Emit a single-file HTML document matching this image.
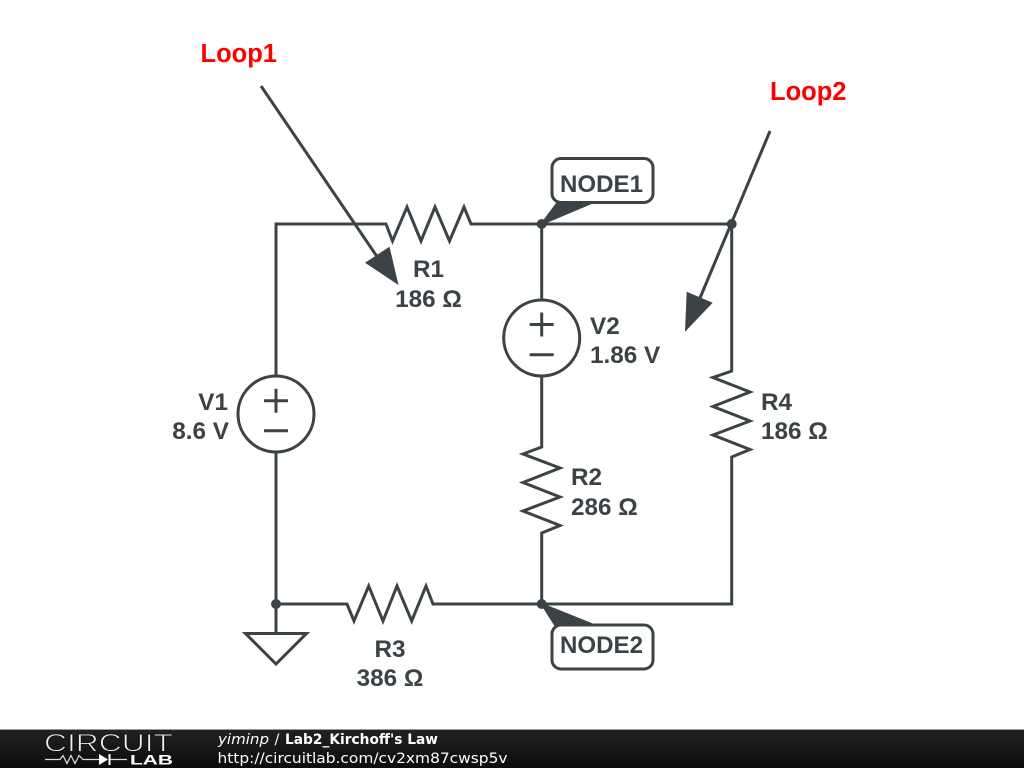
<!DOCTYPE html>
<html><head><meta charset="utf-8"><style>
html,body{margin:0;padding:0;background:#fff;width:1024px;height:768px;overflow:hidden}
svg{display:block}
.w{fill:none;stroke:#3b4347;stroke-width:3;stroke-linejoin:miter}
.f{fill:#3b4347;stroke:none}
.p{fill:#3b4347;stroke:#3b4347;stroke-width:2;stroke-linejoin:round}
.t{font-family:"Liberation Sans",Arial,sans-serif;font-weight:bold;font-size:24.3px;fill:#3b4347}
.r{font-family:"Liberation Sans",Arial,sans-serif;font-weight:bold;font-size:25.5px;fill:#f00}
.d{font-family:"DejaVu Sans",sans-serif;font-size:14.5px;fill:#fff}
</style></head><body>
<svg width="1024" height="768" viewBox="0 0 1024 768" xmlns="http://www.w3.org/2000/svg">
<defs><linearGradient id="g" x1="0" y1="0" x2="0" y2="1"><stop offset="0" stop-color="#222"/><stop offset="1" stop-color="#0c0c0c"/></linearGradient></defs>
<rect width="1024" height="768" fill="#fff"/>
<!-- wires -->
<path class="w" d="M276 376V224H386L392.500 241L407 207L421 241L435 207L449.500 241L464 207L471 224H731.700V371L713 377.500L750 392L713 406.500L750 421L713 435L750 449.500L731.700 457V604H541.700"/>
<path class="w" d="M541.700 224V300M541.700 376V447L523 454L560 468L523 482.500L560 497L523 511L560 525.500L541.700 533V604"/>
<path class="w" d="M541.700 604H433L426 586L411.700 621L397 586L383 621L368.700 586L354 621L347 604H276V452M276 604V633"/>
<!-- sources -->
<circle class="w" cx="541.700" cy="338" r="38"/>
<path class="w" d="M529.700 324.500H553.700M541.700 312.500V336.500M529.700 354.700H553.700"/>
<circle class="w" cx="276" cy="414" r="38"/>
<path class="w" d="M264 400.700H288M276 388.700V412.700M264 430.700H288"/>
<!-- ground -->
<path class="w" d="M245.500 633.500H306.500L276 664Z"/>
<!-- dots -->
<circle class="f" cx="541.700" cy="224" r="5"/>
<circle class="f" cx="731.700" cy="224" r="5"/>
<circle class="f" cx="276" cy="604" r="5"/>
<circle class="f" cx="541.700" cy="604" r="5"/>
<!-- node labels -->
<path class="p" d="M541.700 224L558 202H594Z"/>
<rect x="552" y="158.500" width="101" height="44" rx="9" fill="#fff" stroke="#3b4347" stroke-width="3"/>
<path class="p" d="M541.700 604L555 625H594Z"/>
<rect x="552" y="625" width="101" height="44" rx="9" fill="#fff" stroke="#3b4347" stroke-width="3"/>
<text class="t" x="560" y="192" textLength="83" lengthAdjust="spacingAndGlyphs">NODE1</text>
<text class="t" x="560" y="653" textLength="83" lengthAdjust="spacingAndGlyphs">NODE2</text>
<!-- pointer arrows -->
<path class="w" d="M261 86L378 258"/>
<path class="f" d="M398.500 285L389.500 246.700L365 262.700Z"/>
<path class="w" d="M770 131L700 298"/>
<path class="f" d="M685 331.700L686.700 291.700L712.700 302.700Z"/>
<!-- labels -->
<text class="r" x="200.500" y="62">Loop1</text>
<text class="r" x="770" y="100">Loop2</text>
<text class="t" x="428.500" y="277" text-anchor="middle">R1</text>
<text class="t" x="428.500" y="307" text-anchor="middle">186 Ω</text>
<text class="t" x="590" y="334">V2</text>
<text class="t" x="590" y="363">1.86 V</text>
<text class="t" x="228" y="410" text-anchor="end">V1</text>
<text class="t" x="229" y="439" text-anchor="end">8.6 V</text>
<text class="t" x="571" y="485">R2</text>
<text class="t" x="571" y="515">286 Ω</text>
<text class="t" x="761" y="410">R4</text>
<text class="t" x="761" y="439">186 Ω</text>
<text class="t" x="390" y="657" text-anchor="middle">R3</text>
<text class="t" x="390" y="686" text-anchor="middle">386 Ω</text>
<!-- footer -->
<rect x="0" y="729" width="1024" height="39" fill="url(#g)"/>
<rect x="0" y="729" width="1024" height="1" fill="#999"/>
<text x="44" y="751.500" font-family="'Liberation Sans',sans-serif" font-size="25" fill="#f0f0f0" stroke="#161616" stroke-width="0.900" textLength="129" lengthAdjust="spacingAndGlyphs">CIRCUIT</text>
<path d="M45 759.500H60L63 755.500L67 763.500L71 755.500L75 763.500L79 755.500L83 759.500H99M109 759.500H127" fill="none" stroke="#ddd" stroke-width="1.200"/>
<path d="M99 754V765L108 759.500ZM108.500 754H110.500V765H108.500Z" fill="#fff"/>
<text x="130" y="764.500" font-family="'Liberation Sans',sans-serif" font-weight="bold" font-size="13.500" fill="#fff" textLength="43" lengthAdjust="spacingAndGlyphs">LAB</text>
<text class="d" x="218" y="744" font-style="italic" textLength="51" lengthAdjust="spacingAndGlyphs">yiminp</text>
<text class="d" x="274.500" y="744">/</text>
<text class="d" x="285" y="744" font-weight="bold" textLength="153" lengthAdjust="spacingAndGlyphs">Lab2_Kirchoff's Law</text>
<text class="d" x="217.500" y="763" textLength="290" lengthAdjust="spacingAndGlyphs">http://circuitlab.com/cv2xm87cwsp5v</text>
</svg>
</body></html>
